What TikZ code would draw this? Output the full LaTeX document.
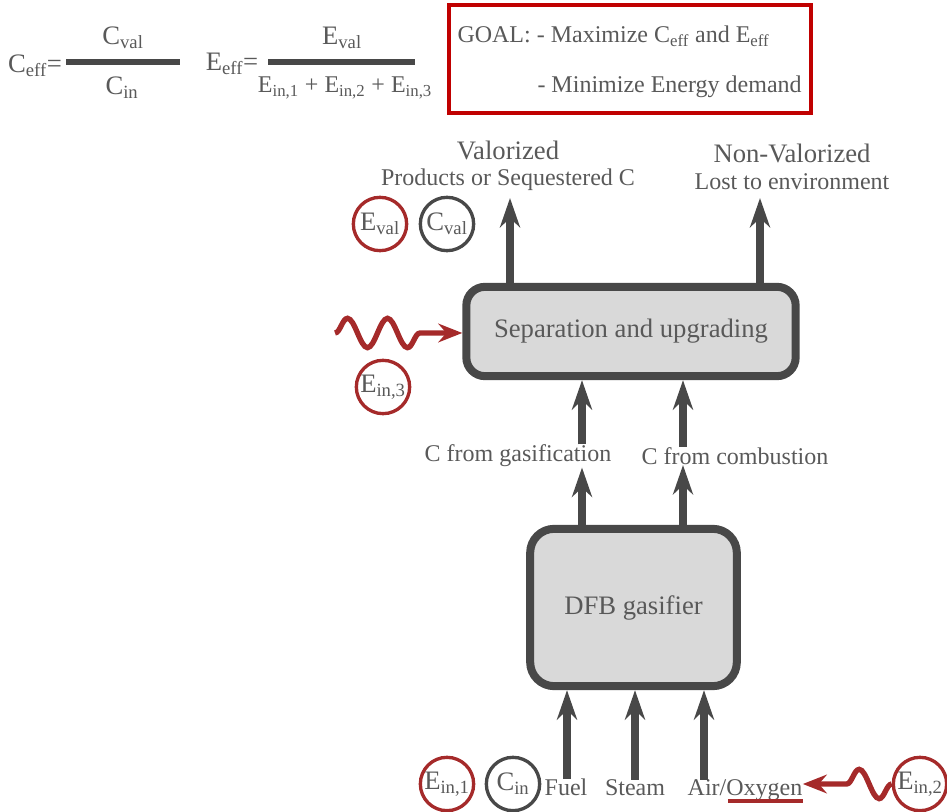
\documentclass[tikz,border=0pt]{standalone}
\usepackage{fontspec}
\setmainfont{Liberation Serif}
\usepackage{xcolor}
\usepackage{tikz}
\usetikzlibrary{positioning,calc,arrows.meta,decorations.pathmorphing}
\definecolor{boxgray}{HTML}{484848}
\definecolor{fillgray}{HTML}{D9D9D9}
\definecolor{txtgray}{HTML}{595959}
\definecolor{ered}{HTML}{A52A2A}
\definecolor{goalred}{HTML}{C00000}
\tikzset{every picture/.style={line width=0.75pt}}

\begin{document}
\begin{tikzpicture}[x=0.75pt,y=0.75pt,yscale=-1,xscale=1,
  every node/.style={text=txtgray,inner sep=0pt,font=\fontsize{18}{21}\selectfont},
  unit/.style={draw=boxgray,fill=fillgray,line width=6pt,font=\fontsize{20}{24}\selectfont},
  flow/.style={draw=boxgray,line width=5.5pt,-{Stealth[length=22pt,width=15pt,inset=7pt]}},
  wave/.style={draw=ered,line width=4pt,decorate,decoration={snake,amplitude=11pt,segment length=30pt,post length=22pt},-{Stealth[length=18pt,width=14pt,inset=6pt]}},
  ctag/.style={circle,draw=boxgray,line width=2.5pt,minimum size=40pt,font=\fontsize{20}{24}\selectfont},
  etag/.style={ctag,draw=ered},
  bar/.style={draw=boxgray,line width=4.5pt},
  big/.style={font=\fontsize{20}{24}\selectfont}
]
\useasboundingbox (0,0) rectangle (947,812);

%Formula: carbon efficiency
\node[big] (ceff) at (35,66) {C\textsubscript{eff}=};
\draw[bar] (66,62) -- (180,62);
\node[big] (cvalnum) at (123,38) {C\textsubscript{val}};
\node[big] (cinden) at (122,88) {C\textsubscript{in}};
%Formula: energy efficiency
\node[big] (eeff) at (232,64) {E\textsubscript{eff}=};
\draw[bar] (268,62) -- (415,62);
\node[big] (evalnum) at (342,38) {E\textsubscript{val}};
\node (einden) at (345,88) {E\textsubscript{in,1} + E\textsubscript{in,2} + E\textsubscript{in,3}};

%Shape: Rectangle (goal)
\draw[goalred,line width=3pt] (449,5) rectangle (811,113);
\node[anchor=base west] (goal1) at (457,43) {GOAL: - Maximize C\textsubscript{eff} and E\textsubscript{eff}};
\node[anchor=base west] (goal2) at (537,93) {- Minimize Energy demand};

%Rounded Rect (separation)
\node[unit,rounded corners=14pt,minimum width=247pt,minimum height=67pt] (sep) at (631,331.5) {Separation and upgrading};
%Rounded Rect (gasifier)
\node[unit,rounded corners=18pt,minimum width=155pt,minimum height=118pt] (dfb) at (633.5,607.5) {DFB gasifier};

% Text Node
\node[big] (valor) at (508,150) {Valorized};
\node (valprod) at (508,180) {Products or Sequestered C};
\node[big] (nonval) at (792,153) {Non-Valorized};
\node (lost) at (792,182) {Lost to environment};
\node (gaslab) at (518,456) {C from gasification};
\node (comblab) at (735,456) {C from combustion};
\node[anchor=base] (fuel) at (566,796) {Fuel};
\node[anchor=base] (steam) at (635,796) {Steam};
\node[anchor=base] (air) at (745,796) {Air/Oxygen};

%Circles
\node[etag] (eval) at (380,224) {E\textsubscript{val}};
\node[ctag] (cval) at (447,224) {C\textsubscript{val}};
\node[etag] (ein3) at (383,387) {E\textsubscript{in,3}};
\node[etag] (ein1) at (447,784) {E\textsubscript{in,1}};
\node[ctag] (cin) at (513,784) {C\textsubscript{in}};
\node[etag] (ein2) at (920,784) {E\textsubscript{in,2}};

%Arrows
\coordinate (valtip) at (510,198);
\coordinate (losttip) at (760,198);
\coordinate (gasx) at (582,0);
\coordinate (combx) at (683,0);
\coordinate (fuelx) at (567,0);
\coordinate (airx) at (704,0);
\coordinate (heatin) at (335,333);
\draw[flow] (valtip |- sep.north) -- (valtip);
\draw[flow] (losttip |- sep.north) -- (losttip);
\draw[flow] (gasx |- gaslab.north) -- (gasx |- sep.south);
\draw[flow] (combx |- comblab.north) -- (combx |- sep.south);
\draw[flow] (gasx |- dfb.north) -- (gasx |- gaslab.south);
\draw[flow] (combx |- dfb.north) -- (combx |- comblab.south);
\draw[flow] (fuelx |- fuel.north) -- (fuelx |- dfb.south);
\draw[flow] (steam.north) -- (steam.north |- dfb.south);
\draw[flow] (airx |- air.north) -- (airx |- dfb.south);

%Heat inputs
\draw[wave] (heatin) -- (heatin -| sep.west);
\draw[wave] (ein2.west) -- (ein2.west -| air.east);
\draw[ered,line width=3pt] ($(air.base east)+(-75,5)$) -- ($(air.base east)+(0,5)$);

\end{tikzpicture}
\end{document}
